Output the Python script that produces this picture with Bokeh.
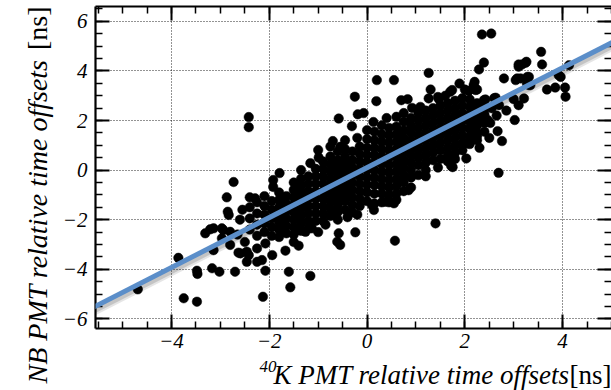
import math
from bokeh.plotting import figure
from bokeh.models import Range1d, Slope, LinearAxis, SingleIntervalTicker
from bokeh.layouts import row, column
from bokeh.core.properties import value
from bokeh.embed import file_html
from bokeh.resources import INLINE

# ---------------- data ----------------
# Dense core of the correlation, listed column by column:
# one 40K offset value per column and the NB offsets of the points in it (ns)
core_k40 = [-2.4, -2.25, -2.1, -1.95, -1.8, -1.65, -1.5, -1.35, -1.2, -1.05,
            -0.9, -0.75, -0.6, -0.45, -0.3, -0.15, 0.0, 0.15, 0.3, 0.45,
            0.6, 0.75, 0.9, 1.05, 1.2, 1.35, 1.5, 1.65, 1.8, 1.95,
            2.1, 2.25, 2.4]
core_nb = [
    [-1.1, -1.5, -1.95, -2.4],
    [-1.3, -1.75, -2.2, -2.65],
    [-1.05, -1.45, -1.8, -2.15, -2.5],
    [-1.25, -1.6, -1.95, -2.3, -2.65],
    [-0.9, -1.2, -1.5, -1.8, -2.1, -2.4, -2.7],
    [-1.05, -1.35, -1.65, -1.95, -2.25, -2.55],
    [-0.5, -0.8, -1.1, -1.4, -1.7, -2.0, -2.3, -2.6, -2.9],
    [-0.35, -0.65, -0.95, -1.25, -1.55, -1.85, -2.15, -2.45],
    [-0.25, -0.55, -0.85, -1.15, -1.45, -1.75, -2.05, -2.35],
    [0.05, -0.25, -0.55, -0.85, -1.15, -1.45, -1.75, -2.05],
    [0.35, 0.05, -0.25, -0.55, -0.85, -1.15, -1.45, -1.75, -2.05],
    [0.95, 0.55, 0.25, -0.05, -0.35, -0.65, -0.95, -1.25, -1.55, -1.85],
    [0.75, 0.4, 0.1, -0.2, -0.5, -0.8, -1.1, -1.4, -1.7, -2.0],
    [0.85, 0.55, 0.25, -0.05, -0.35, -0.65, -0.95, -1.25, -1.6],
    [0.75, 0.4, 0.1, -0.2, -0.5, -0.8, -1.1, -1.4, -1.7],
    [0.95, 0.65, 0.35, 0.05, -0.25, -0.55, -0.85, -1.15, -1.45],
    [1.25, 0.9, 0.6, 0.3, 0.0, -0.3, -0.6, -0.9, -1.25],
    [1.55, 1.2, 0.9, 0.6, 0.3, 0.0, -0.3, -0.6, -0.95, -1.35],
    [1.8, 1.45, 1.15, 0.85, 0.55, 0.25, -0.05, -0.35, -0.65, -0.95, -1.3],
    [1.7, 1.4, 1.1, 0.8, 0.5, 0.2, -0.1, -0.4, -0.7, -1.0, -1.3],
    [1.75, 1.45, 1.15, 0.85, 0.55, 0.25, -0.05, -0.35, -0.65, -0.95, -1.2],
    [1.95, 1.6, 1.3, 1.0, 0.7, 0.4, 0.1, -0.2, -0.5, -0.85],
    [2.1, 1.8, 1.5, 1.2, 0.9, 0.6, 0.3, 0.0, -0.3, -0.7],
    [2.3, 2.0, 1.7, 1.4, 1.1, 0.8, 0.5, 0.2, -0.2],
    [2.4, 2.1, 1.8, 1.5, 1.2, 0.9, 0.6, 0.3, 0.0],
    [2.5, 2.2, 1.9, 1.6, 1.3, 1.0, 0.7, 0.4],
    [2.6, 2.3, 2.0, 1.7, 1.4, 1.1, 0.8, 0.45],
    [2.7, 2.4, 2.1, 1.8, 1.5, 1.2, 0.9, 0.6, 0.35],
    [2.8, 2.5, 2.2, 1.9, 1.6, 1.3, 1.0, 0.7, 0.45],
    [2.9, 2.6, 2.3, 2.0, 1.7, 1.4, 1.1, 0.8],
    [2.85, 2.55, 2.25, 1.95, 1.65, 1.35, 1.05],
    [2.7, 2.4, 2.1, 1.8, 1.5, 1.2],
    [2.6, 2.25, 1.9, 1.55],
]

# Scattered PMTs outside the dense core (40K offset, NB offset) in ns
spread_k40 = [
    -2.42, -2.42, -2.73, -1.79, -1.92, -1.92, -2.87, -2.85, -2.83, -2.29, -1.0, -0.70, -0.55, -1.16, -0.99,
    -3.31, -3.21, -2.94, -2.97, -3.14, -2.80, -2.63, -2.46, -2.46, -2.25, -2.15, -2.25, -2.08, -1.94, -1.67,
    -3.86, -3.48, -3.47, -3.17, -3.02, -2.70, -2.08, -1.60, -1.57, -3.75, -3.48, -2.13, -4.69, -3.14, -2.97,
    -2.80, -2.59, -2.42, -2.6, -2.55, -2.65, -2.5,
    -1.16, -0.58, -0.61, -0.55, -0.24, 0.57, 1.40, -1.13, -1.26, -1.0, -1.4, -0.85, 0.10, 0.14, 0.37, 0.55,
    0.85, -0.4, -0.2,
    2.69, 1.72, 2.03, 2.05, 2.25, 2.67, 2.76, 3.02, 1.75, 1.2, 1.45, 2.3, 2.5,
    0.2, 0.55, -0.25, 0.19, -0.58, -0.19, -0.31, 1.26, 1.89, 1.74, 2.20, 2.25, 2.08, 1.30, 1.47, 1.26,
    0.70, 0.83, 0.92, 1.09, 1.70, -0.07, 0.0, 0.13, -0.45, -0.2, 0.4, 0.6, 0.75, 1.45, 1.6, 2.0, -1.35,
    2.35, 2.54, 3.56, 3.58, 2.39, 2.29, 3.10, 3.24, 3.17, 3.26, 3.10, 3.07, 3.28, 2.80, 3.04, 3.14, 3.31,
    3.27, 3.34, 3.68, 3.85, 4.05, 4.06, 3.96, 3.92, 4.13, 3.21, 3.10, 3.0, 3.31, 2.42, 2.63, 2.18, 2.22,
    2.39, 2.60, 2.70, 2.39, 2.47, 2.32, 2.52, 2.12, 2.55, 2.65, 2.85,
]
spread_nb = [
    2.14, 1.73, -0.48, -0.12, -0.40, -0.68, -1.10, -1.68, -1.81, -1.14, 0.81, 1.17, 0.94, 0.28, 0.5,
    -2.55, -2.39, -2.42, -2.75, -3.23, -3.02, -3.33, -3.29, -3.70, -3.70, -3.63, -3.16, -2.96, -3.43, -3.25,
    -3.54, -4.06, -4.19, -3.96, -4.10, -4.10, -4.06, -4.10, -4.73, -5.17, -5.31, -5.11, -4.81, -2.35, -2.35,
    -2.49, -3.36, -3.43, -2.0, -1.6, -2.6, -2.9,
    -4.27, -2.55, -2.89, -3.02, -2.51, -2.85, -2.15, -2.35, -2.49, -2.5, -3.05, -2.2, -1.41, -1.61, -1.28, -1.34,
    -0.81, -1.9, -1.8,
    -0.11, 0.17, 0.47, 1.08, 1.37, 1.57, 1.17, 2.02, 0.12, -0.25, 0.1, 0.9, 1.3,
    3.63, 3.63, 2.96, 2.78, 2.08, 2.25, 1.77, 3.92, 3.49, 3.23, 3.56, 3.25, 3.20, 3.25, 2.86, 2.89,
    2.82, 2.86, 2.51, 2.55, 3.16, 2.3, 1.61, 1.94, 1.2, 1.3, 2.1, 2.15, 2.3, 2.95, 3.0, 3.25, 0.0,
    5.47, 5.51, 4.77, 4.26, 4.34, 4.06, 4.26, 4.33, 4.26, 4.37, 4.17, 3.70, 3.76, 3.70, 3.63, 3.70, 3.76,
    3.49, 3.43, 3.25, 3.33, 3.33, 2.96, 3.76, 3.83, 4.23, 2.89, 2.62, 2.86, 3.43, 2.85, 2.92, 3.43, 3.23,
    2.82, 2.90, 2.62, 2.42, 2.02, 2.14, 1.90, 1.73, 2.5, 2.2, 2.4,
]

# Linear fit shown as the blue line
fit_slope = 1.007
fit_intercept = 0.10

# Axis ticks and titles
tick_values = [-6, -4, -2, 0, 2, 4, 6]
tick_labels = ["\u22126", "\u22124", "\u22122", "0", "2", "4", "6"]
x_title_sup = "40"
x_title_main = "K PMT relative time offsets"
x_title_unit = "[ns]"
y_title_main = "NB PMT relative time offsets"
y_title_unit = "[ns]"

# ---------------- assemble points ----------------
pts_x, pts_y = [], []
for cx, ys in zip(core_k40, core_nb):
    for yy in ys:
        pts_x.append(cx)
        pts_y.append(yy)
pts_x += spread_k40
pts_y += spread_nb

FONT = "Liberation Serif"
W, H = 611, 390
YLAB_W = 54          # strip holding the vertical title
MAIN_H = 357         # main plot height (x title strip below it)
FRAME_L = 95         # page x of the plot frame's left edge

# ---------------- main plot ----------------
XR = (-5.555, 5.0)
YR = (-6.39, 6.6)
p = figure(width=W - YLAB_W, height=MAIN_H, output_backend="svg", toolbar_location=None,
           x_range=Range1d(*XR), y_range=Range1d(*YR),
           min_border_left=FRAME_L - YLAB_W, min_border_right=0, min_border_top=6,
           min_border_bottom=MAIN_H - 328)
p.outline_line_color = None
p.background_fill_color = "white"
p.border_fill_color = "white"

# shadow offset ranges (drop shadow of the fit line)
p.extra_x_ranges = {"shx": Range1d(XR[0] - 0.04, XR[1] - 0.04)}
p.extra_y_ranges = {"shy": Range1d(YR[0] + 0.12, YR[1] + 0.12)}

overrides = dict(zip(tick_values, tick_labels))

def style_axis(ax, show):
    ax.ticker = SingleIntervalTicker(interval=2, num_minor_ticks=4)
    ax.axis_line_width = 2.2
    ax.axis_line_color = "black"
    ax.major_tick_in = 14
    ax.major_tick_out = 0
    ax.minor_tick_in = 7
    ax.minor_tick_out = 0
    ax.major_tick_line_width = 2
    ax.minor_tick_line_width = 1.5
    ax.major_tick_line_color = "black"
    ax.minor_tick_line_color = "black"
    if show:
        ax.major_label_overrides = overrides
        ax.major_label_text_font = FONT
        ax.major_label_text_font_style = "italic"
        ax.major_label_text_font_size = "21px"
        ax.major_label_text_color = "black"
    else:
        ax.major_label_text_color = None
        ax.major_label_text_font_size = "1px"
        ax.major_label_standoff = 0

style_axis(p.xaxis[0], True)
style_axis(p.yaxis[0], True)
p.xaxis[0].major_label_standoff = 5
p.yaxis[0].major_label_standoff = 8

top_ax = LinearAxis()
style_axis(top_ax, False)
p.add_layout(top_ax, "above")
right_ax = LinearAxis()
style_axis(right_ax, False)
right_ax.axis_line_color = None
p.add_layout(right_ax, "right")

for g in (p.xgrid[0], p.ygrid[0]):
    g.ticker = SingleIntervalTicker(interval=2)
    g.grid_line_color = "black"
    g.grid_line_dash = "1 2"
    g.grid_line_width = 1
    g.grid_line_alpha = 0.85

p.scatter(pts_x, pts_y, size=9.5, fill_color="black", line_color="black", line_width=0.5)

shadow_wide = Slope(gradient=fit_slope, y_intercept=fit_intercept, line_color="black",
                    line_alpha=0.10, line_width=9, x_range_name="shx", y_range_name="shy")
shadow = Slope(gradient=fit_slope, y_intercept=fit_intercept, line_color="black",
               line_alpha=0.14, line_width=5, x_range_name="shx", y_range_name="shy")
p.add_layout(shadow_wide)
p.add_layout(shadow)
fit = Slope(gradient=fit_slope, y_intercept=fit_intercept, line_color="#5b8ec9", line_width=5)
p.add_layout(fit)

# ---------------- title strips (pixel-unit canvases) ----------------
def strip(w, h, xr, yr):
    f = figure(width=w, height=h, output_backend="svg", toolbar_location=None,
               x_range=Range1d(*xr), y_range=Range1d(*yr),
               x_axis_location=None, y_axis_location=None,
               min_border=0, min_border_left=0, min_border_right=0,
               min_border_top=0, min_border_bottom=0)
    f.outline_line_color = None
    f.grid.visible = False
    f.background_fill_color = "white"
    f.border_fill_color = "white"
    return f

# vertical title: left strip, full height (pixel units, y up from the bottom)
yl = strip(YLAB_W, H, (0, YLAB_W), (0, H))
yl.text(x=[37], y=[H - 383], text=[y_title_main], angle=math.pi / 2,
        text_font=value(FONT), text_font_style="italic", text_font_size="28px",
        text_align="left", text_baseline="middle", text_color="black")
yl.text(x=[37], y=[H - 6], text=[y_title_unit], angle=math.pi / 2,
        text_font=value(FONT), text_font_style="normal", text_font_size="28px",
        text_align="right", text_baseline="middle", text_color="black")

# horizontal title: strip under the main plot; its frame is aligned by the
# layout with the main frame, so its x range is given in page pixels of that frame
XS_H = H - MAIN_H
xl = strip(W - YLAB_W, XS_H, (FRAME_L, W), (0, XS_H))
xl.text(x=[259], y=[H - 366], text=[x_title_sup],
        text_font=value(FONT), text_font_style="italic", text_font_size="17px",
        text_align="left", text_baseline="middle", text_color="black")
xl.text(x=[569], y=[H - 374], text=[x_title_main],
        text_font=value(FONT), text_font_style="italic", text_font_size="27px",
        text_align="right", text_baseline="middle", text_color="black")
xl.text(x=[W], y=[H - 374], text=[x_title_unit],
        text_font=value(FONT), text_font_style="normal", text_font_size="27px",
        text_align="right", text_baseline="middle", text_color="black")

layout = row(yl, column(p, xl, spacing=0), spacing=0)
open("out.html", "w").write(file_html(layout, INLINE))
